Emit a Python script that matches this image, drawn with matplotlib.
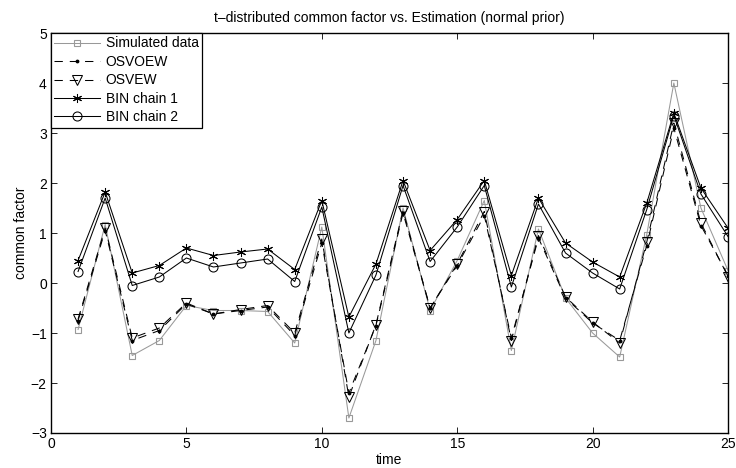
import matplotlib
matplotlib.use("Agg")
import matplotlib.pyplot as plt

plt.rcParams['font.family'] = ['Liberation Sans', 'DejaVu Sans']
plt.rcParams['lines.scale_dashes'] = False

time = list(range(1, 26))
simulated = [-0.93, 1.17, -1.45, -1.15, -0.45, -0.55, -0.55, -0.57, -1.2, 1.12,
             -2.7, -1.15, 1.5, -0.55, 0.45, 1.65, -1.35, 1.08, -0.3, -1.0,
             -1.48, 0.97, 4.0, 1.5, 0.25]
osvoew = [-0.75, 1.05, -1.15, -0.95, -0.42, -0.62, -0.55, -0.48, -1.05, 0.8,
          -2.2, -0.85, 1.4, -0.5, 0.35, 1.35, -1.1, 0.9, -0.3, -0.8,
          -1.15, 0.75, 3.1, 1.15, 0.15]
osvew = [-0.72, 1.1, -1.1, -0.9, -0.4, -0.62, -0.53, -0.45, -1.0, 0.88,
         -2.28, -0.83, 1.45, -0.5, 0.38, 1.43, -1.15, 0.95, -0.28, -0.78,
         -1.2, 0.82, 3.2, 1.2, 0.13]
bin1 = [0.45, 1.82, 0.2, 0.35, 0.7, 0.55, 0.62, 0.68, 0.27, 1.65,
        -0.68, 0.38, 2.05, 0.65, 1.27, 2.05, 0.15, 1.7, 0.8, 0.42,
        0.12, 1.6, 3.4, 1.9, 1.1]
bin2 = [0.23, 1.7, -0.05, 0.12, 0.5, 0.32, 0.4, 0.48, 0.03, 1.52,
        -1.0, 0.16, 1.95, 0.43, 1.12, 1.95, -0.08, 1.58, 0.6, 0.2,
        -0.12, 1.47, 3.35, 1.78, 0.93]

fig = plt.figure(figsize=(7.36, 4.68), dpi=100)
ax = fig.add_axes([51 / 736, 1 - 433 / 468, 677 / 736, 400 / 468])

lw = 0.75
dash = (0, (6, 5))
ax.plot(time, simulated, color='#999999', lw=lw, marker='s', ms=5,
        mfc='none', mec='#999999', mew=0.8, label='Simulated data')
ax.plot(time, osvoew, color='black', lw=lw, ls=dash, marker='.', ms=3.5,
        label='OSVOEW')
ax.plot(time, osvew, color='black', lw=lw, ls=dash, marker='v', ms=6.5,
        mfc='none', mec='black', mew=0.75, label='OSVEW')
ax.plot(time, bin1, color='black', lw=lw, marker=(6, 2, 0), ms=6.5, mew=0.75,
        label='BIN chain 1')
ax.plot(time, bin2, color='black', lw=lw, marker='o', ms=6.5, mfc='none',
        mec='black', mew=0.75, label='BIN chain 2')

ax.set_xlim(0, 25)
ax.set_ylim(-3, 5)
ax.set_xticks([0, 5, 10, 15, 20, 25])
ax.set_yticks(range(-3, 6))
ax.tick_params(direction='in', top=True, right=True, labelsize=10, length=4.5,
               width=0.6, pad=3)
for s in ax.spines.values():
    s.set_linewidth(1.0)
ax.set_xlabel('time', fontsize=10, labelpad=1)
ax.set_ylabel('common factor', fontsize=10, labelpad=2)
ax.set_title('t\u2013distributed common factor vs. Estimation (normal prior)',
             fontsize=10, pad=8)

leg = ax.legend(loc='upper left', fontsize=10, frameon=True, fancybox=False,
                edgecolor='black', borderaxespad=0.0, handlelength=3.3,
                labelspacing=0.32, borderpad=0.25, handletextpad=0.4,
                framealpha=1)
leg.get_frame().set_linewidth(0.9)

fig.savefig('out.png', dpi=100)
